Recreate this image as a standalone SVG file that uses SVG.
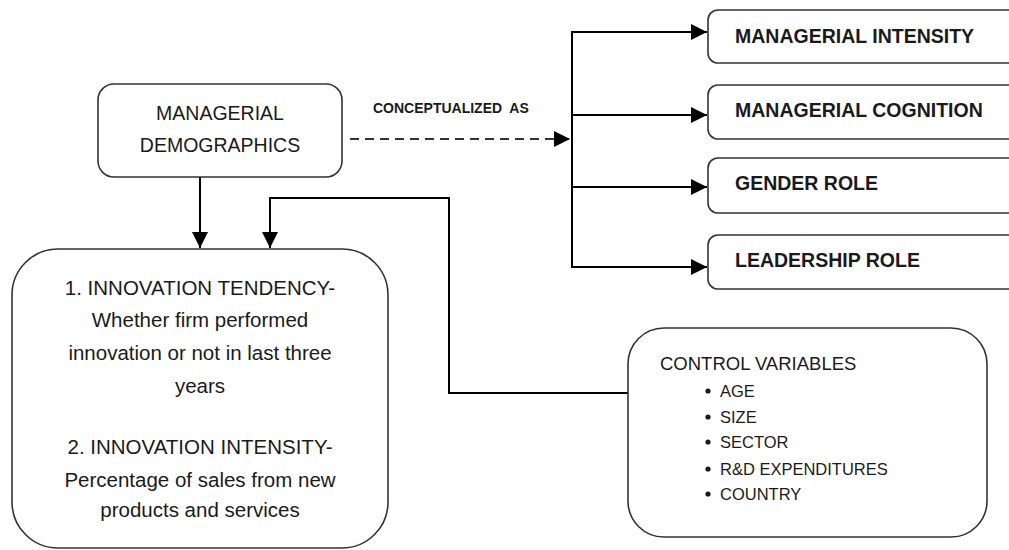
<svg xmlns="http://www.w3.org/2000/svg" width="1009" height="550" viewBox="0 0 1009 550">
<defs>
<style>
.box{fill:#fff;stroke:#333;stroke-width:1.6}
.ln{fill:none;stroke:#000;stroke-width:2}
.dash{fill:none;stroke:#333;stroke-width:2;stroke-dasharray:9 6}
.t{font-family:"Liberation Sans",Arial,sans-serif;fill:#1a1a1a}
.c{text-anchor:middle}
.b{font-weight:bold}
</style>
<marker id="ah" markerWidth="16" markerHeight="16" refX="16" refY="8" orient="auto" markerUnits="userSpaceOnUse">
<path d="M0,0 L16,8 L0,16 Z" fill="#000"/>
</marker>
</defs>
<rect width="1009" height="550" fill="#fff"/>

<g id="connectors">
<line class="ln" x1="200" y1="177" x2="200" y2="248" marker-end="url(#ah)"/>
<polyline class="ln" points="628,393 449,393 449,198 270,198 270,248" marker-end="url(#ah)"/>
<line class="dash" x1="350" y1="139" x2="570" y2="139" marker-end="url(#ah)"/>
<line class="ln" x1="572" y1="31" x2="572" y2="268"/>
<line class="ln" x1="571" y1="32" x2="707" y2="32" marker-end="url(#ah)"/>
<line class="ln" x1="571" y1="115" x2="707" y2="115" marker-end="url(#ah)"/>
<line class="ln" x1="571" y1="187" x2="707" y2="187" marker-end="url(#ah)"/>
<line class="ln" x1="571" y1="267" x2="707" y2="267" marker-end="url(#ah)"/>
<text class="t b" x="373" y="113" font-size="14" xml:space="preserve">CONCEPTUALIZED  AS</text>
</g>

<g id="managerial-demographics">
<rect class="box" x="98" y="84" width="244" height="93" rx="16"/>
<text class="t c" x="220" y="120" font-size="19.5">MANAGERIAL</text>
<text class="t c" x="220" y="152" font-size="19.5">DEMOGRAPHICS</text>
</g>

<g id="innovation">
<rect class="box" x="12" y="249" width="376" height="299" rx="46"/>
<g class="t c" font-size="20.5">
<text x="200" y="295">1. INNOVATION TENDENCY-</text>
<text x="200" y="327">Whether firm performed</text>
<text x="200" y="360">innovation or not in last three</text>
<text x="200" y="393">years</text>
<text x="200" y="454">2. INNOVATION INTENSITY-</text>
<text x="200" y="487">Percentage of sales from new</text>
<text x="200" y="517">products and services</text>
</g>
</g>

<g id="managerial-intensity">
<rect class="box" x="708" y="10" width="320" height="53" rx="10"/>
<text class="t b" x="735" y="43" font-size="19.5">MANAGERIAL INTENSITY</text>
</g>
<g id="managerial-cognition">
<rect class="box" x="708" y="85" width="320" height="54" rx="10"/>
<text class="t b" x="735" y="117" font-size="19.5">MANAGERIAL COGNITION</text>
</g>
<g id="gender-role">
<rect class="box" x="708" y="158" width="320" height="55" rx="10"/>
<text class="t b" x="735" y="190" font-size="19.5">GENDER ROLE</text>
</g>
<g id="leadership-role">
<rect class="box" x="708" y="235" width="320" height="54" rx="10"/>
<text class="t b" x="735" y="267" font-size="19.5">LEADERSHIP ROLE</text>
</g>

<g id="control-variables">
<rect class="box" x="628" y="328" width="359" height="209" rx="36"/>
<text class="t" x="660" y="370" font-size="18.5">CONTROL VARIABLES</text>
<g fill="#1a1a1a">
<circle cx="708" cy="391" r="2.6"/>
<circle cx="708" cy="417" r="2.6"/>
<circle cx="708" cy="442" r="2.6"/>
<circle cx="708" cy="469" r="2.6"/>
<circle cx="708" cy="494" r="2.6"/>
</g>
<g class="t" font-size="16.5">
<text x="720" y="397">AGE</text>
<text x="720" y="423">SIZE</text>
<text x="720" y="448">SECTOR</text>
<text x="720" y="475">R&amp;D EXPENDITURES</text>
<text x="720" y="500">COUNTRY</text>
</g>
</g>
</svg>
